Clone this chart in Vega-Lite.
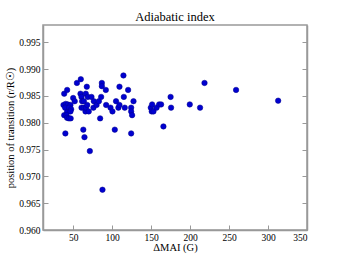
{
  "$schema": "https://vega.github.io/schema/vega-lite/v6.json",
  "width": 264,
  "height": 205,
  "autosize": "none",
  "padding": {"left": 43, "top": 25, "right": 35, "bottom": 24},
  "background": "white",
  "title": {"text": "Adiabatic index", "font": "Liberation Serif", "fontSize": 12.5, "fontWeight": "normal", "color": "black", "offset": 2},
  "config": {
    "view": {"stroke": "#999999", "strokeWidth": 1.5},
    "axis": {"labelFont": "Liberation Serif", "titleFont": "Liberation Serif", "labelColor": "black", "titleColor": "black", "grid": false, "domainColor": "#999999", "domainWidth": 1.5, "tickColor": "#999999", "tickSize": -5, "labelFontSize": 9.5, "titleFontSize": 10.5, "titleFontWeight": "normal"}
  },
  "data": {"values": [
    {"dmai": 38.5, "pos": 0.9854}, {"dmai": 42.3, "pos": 0.9861}, {"dmai": 37.6, "pos": 0.9833},
    {"dmai": 40.5, "pos": 0.9835}, {"dmai": 43.1, "pos": 0.9834}, {"dmai": 46.5, "pos": 0.9833},
    {"dmai": 39.7, "pos": 0.9828}, {"dmai": 44.8, "pos": 0.9828}, {"dmai": 47.4, "pos": 0.9825},
    {"dmai": 42.2, "pos": 0.982}, {"dmai": 46.5, "pos": 0.9821}, {"dmai": 38.5, "pos": 0.9814},
    {"dmai": 41.5, "pos": 0.9814}, {"dmai": 42.2, "pos": 0.9809}, {"dmai": 44.5, "pos": 0.9808},
    {"dmai": 46.8, "pos": 0.9808}, {"dmai": 40.0, "pos": 0.978}, {"dmai": 50.0, "pos": 0.9846},
    {"dmai": 52.0, "pos": 0.984}, {"dmai": 54.8, "pos": 0.9874}, {"dmai": 59.8, "pos": 0.9881},
    {"dmai": 59.4, "pos": 0.9854}, {"dmai": 60.7, "pos": 0.9848}, {"dmai": 61.5, "pos": 0.984},
    {"dmai": 63.7, "pos": 0.984}, {"dmai": 60.7, "pos": 0.9828}, {"dmai": 63.5, "pos": 0.9828},
    {"dmai": 65.8, "pos": 0.9821}, {"dmai": 66.2, "pos": 0.9854}, {"dmai": 67.5, "pos": 0.9867},
    {"dmai": 68.8, "pos": 0.9848}, {"dmai": 66.5, "pos": 0.9828}, {"dmai": 68.0, "pos": 0.9833},
    {"dmai": 70.0, "pos": 0.9821}, {"dmai": 63.0, "pos": 0.9787}, {"dmai": 64.5, "pos": 0.9773},
    {"dmai": 71.4, "pos": 0.9747}, {"dmai": 73.5, "pos": 0.9848}, {"dmai": 76.0, "pos": 0.9828},
    {"dmai": 76.5, "pos": 0.984}, {"dmai": 80.0, "pos": 0.9833}, {"dmai": 83.0, "pos": 0.984},
    {"dmai": 84.6, "pos": 0.9808}, {"dmai": 85.9, "pos": 0.9848}, {"dmai": 86.8, "pos": 0.9874},
    {"dmai": 86.8, "pos": 0.9868}, {"dmai": 87.6, "pos": 0.9675}, {"dmai": 92.3, "pos": 0.9833},
    {"dmai": 91.9, "pos": 0.9861}, {"dmai": 97.9, "pos": 0.9828}, {"dmai": 100.4, "pos": 0.9821},
    {"dmai": 103.4, "pos": 0.9787}, {"dmai": 105.0, "pos": 0.984}, {"dmai": 108.0, "pos": 0.9828},
    {"dmai": 109.4, "pos": 0.9833}, {"dmai": 109.4, "pos": 0.9867}, {"dmai": 114.5, "pos": 0.9888},
    {"dmai": 115.0, "pos": 0.9848}, {"dmai": 116.2, "pos": 0.9828}, {"dmai": 120.5, "pos": 0.9861},
    {"dmai": 124.4, "pos": 0.9828}, {"dmai": 124.4, "pos": 0.9821}, {"dmai": 125.6, "pos": 0.9814},
    {"dmai": 124.4, "pos": 0.978}, {"dmai": 127.4, "pos": 0.984}, {"dmai": 149.6, "pos": 0.9828},
    {"dmai": 151.3, "pos": 0.9834}, {"dmai": 150.8, "pos": 0.9821}, {"dmai": 153.0, "pos": 0.9821},
    {"dmai": 157.0, "pos": 0.9828}, {"dmai": 160.3, "pos": 0.9834}, {"dmai": 162.8, "pos": 0.9834},
    {"dmai": 165.8, "pos": 0.9793}, {"dmai": 175.0, "pos": 0.9848}, {"dmai": 175.6, "pos": 0.9828},
    {"dmai": 199.6, "pos": 0.9834}, {"dmai": 212.8, "pos": 0.9828}, {"dmai": 218.5, "pos": 0.9874},
    {"dmai": 259.0, "pos": 0.9861}, {"dmai": 313.0, "pos": 0.9841}
  ]},
  "layer": [
    {
      "mark": {"type": "point", "filled": true, "size": 30, "color": "#0000d0", "opacity": 1, "stroke": "#00008a", "strokeWidth": 0.5},
      "encoding": {
        "x": {"field": "dmai", "type": "quantitative", "scale": {"domain": [11.3, 350], "nice": false, "zero": false},
              "axis": {"values": [50, 100, 150, 200, 250, 300, 350], "title": "ΔMAI (G)", "titlePadding": 1, "labelPadding": 7}},
        "y": {"field": "pos", "type": "quantitative", "scale": {"domain": [0.96, 0.9982], "nice": false, "zero": false},
              "axis": {"values": [0.96, 0.965, 0.97, 0.975, 0.98, 0.985, 0.99, 0.995], "format": ".3f", "title": "position of transition (r/R☉)", "titlePadding": 3, "labelPadding": 8}}
      }
    },
    {
      "mark": {"type": "point", "opacity": 0},
      "encoding": {
        "y": {"field": "pos", "type": "quantitative", "scale": {"domain": [0.96, 0.9982], "nice": false, "zero": false},
              "axis": {"orient": "right", "values": [0.96, 0.965, 0.97, 0.975, 0.98, 0.985, 0.99, 0.995], "labels": false, "title": null}}
      }
    }
  ],
  "resolve": {"axis": {"y": "independent"}}
}
